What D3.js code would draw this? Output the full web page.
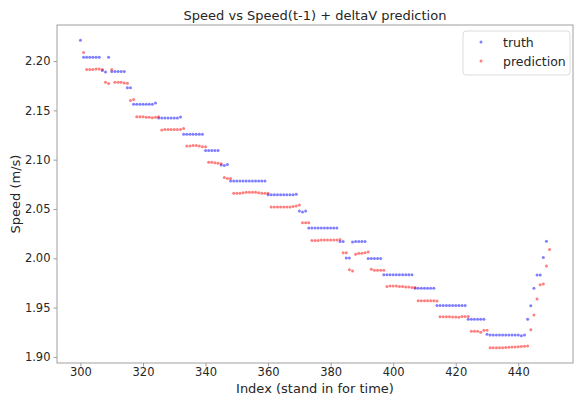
<!DOCTYPE html>
<html>
<head>
  <meta charset="utf-8">
  <script src="https://d3js.org/d3.v7.min.js"></script>
  <style>
    body{ margin:0; background:#fff; }
    text{ font-family:"DejaVu Sans", sans-serif; fill:#262626; }
    .axis path, .axis line{ stroke:#a0a0a0; }
    .axis text{ font-size:11.5px; fill:#262626; }
  </style>
</head>
<body>
<script>
// truth, index 300..449
var truthStart = 300;
var truth = [
  2.221,
  2.204, 2.204, 2.204, 2.204, 2.204, 2.204,
  2.1905, 2.1888,
  2.204,
  2.1895, 2.1895, 2.1895, 2.1895, 2.1895,
  2.173, 2.173,
  2.1563, 2.1563, 2.1563, 2.1563, 2.1563, 2.1563, 2.1563, 2.1576,
  2.1423, 2.1423, 2.1423, 2.1423, 2.1423, 2.1423, 2.1423, 2.1432,
  2.1258, 2.1258, 2.1258, 2.1258, 2.1258, 2.1258, 2.1258,
  2.1092, 2.1092, 2.1092, 2.1092, 2.1092,
  2.0945, 2.094, 2.095,
  2.0783, 2.0783, 2.0783, 2.0783, 2.0783, 2.0783, 2.0783, 2.0783, 2.0783, 2.0783, 2.0783, 2.0783,
  2.0644, 2.0644, 2.0644, 2.0644, 2.0644, 2.0644, 2.0644, 2.0644, 2.0644, 2.065,
  2.048, 2.047, 2.048,
  2.0308, 2.0308, 2.0308, 2.0308, 2.0308, 2.0308, 2.0308, 2.0308, 2.0308, 2.0308,
  2.017, 2.017,
  2.0004, 2.0004,
  2.0165, 2.017, 2.017, 2.017, 2.017,
  1.9997, 1.9997, 1.9997, 1.9997, 1.9997,
  1.9834, 1.9834, 1.9834, 1.9834, 1.9834, 1.9834, 1.9834, 1.9834, 1.9834, 1.9834,
  1.9695, 1.9695, 1.9695, 1.9695, 1.9695, 1.9695, 1.9695,
  1.9522, 1.9522, 1.9522, 1.9522, 1.9522, 1.9522, 1.9522, 1.9522, 1.9522, 1.9522,
  1.9383, 1.9383, 1.9383, 1.9383, 1.9383, 1.9383,
  1.923, 1.9221, 1.9221, 1.9221, 1.9221, 1.9221, 1.9221, 1.9221, 1.9221, 1.9221, 1.9221, 1.9215, 1.9221,
  1.9383, 1.952, 1.9695, 1.983, 1.983, 2.0007, 2.0173
];

// prediction, index 301..450
var predStart = 301;
var prediction = [
  2.2088,
  2.1915, 2.1915, 2.1915, 2.192, 2.192, 2.1915,
  2.1786, 2.1773,
  2.1915,
  2.1786, 2.1786, 2.1786, 2.1778, 2.1776,
  2.160, 2.161,
  2.1435, 2.1435, 2.1435, 2.143, 2.143, 2.1425, 2.143, 2.1435,
  2.1300, 2.1305, 2.1305, 2.1305, 2.1305, 2.1305, 2.1305, 2.1315,
  2.114, 2.114, 2.1145, 2.1145, 2.114, 2.113, 2.113,
  2.0975, 2.0975, 2.097, 2.0965, 2.096,
  2.082, 2.081, 2.081,
  2.066, 2.066, 2.066, 2.0665, 2.067, 2.067, 2.067, 2.067, 2.0665, 2.066, 2.066, 2.066,
  2.052, 2.052, 2.052, 2.052, 2.052, 2.052, 2.052, 2.0525, 2.053, 2.054,
  2.036, 2.036, 2.036,
  2.018, 2.018, 2.018, 2.0185, 2.0185, 2.0185, 2.0185, 2.0185, 2.0185, 2.019,
  2.0055, 2.0055,
  1.9885, 1.987,
  2.004, 2.005, 2.005, 2.0055, 2.0065,
  1.989, 1.988, 1.988, 1.988, 1.988,
  1.9715, 1.972, 1.972, 1.972, 1.9715, 1.9715, 1.971, 1.971, 1.9705, 1.9705,
  1.957, 1.957, 1.957, 1.957, 1.957, 1.957, 1.9566,
  1.9407, 1.9407, 1.9407, 1.9407, 1.9405, 1.9405, 1.9402, 1.941, 1.941, 1.941,
  1.926, 1.926, 1.926, 1.925, 1.927, 1.927,
  1.9094, 1.9094, 1.9094, 1.9094, 1.9094, 1.9096, 1.9098, 1.91, 1.91, 1.9103, 1.9105, 1.9108, 1.911,
  1.9275, 1.9424, 1.9586, 1.9732, 1.974, 1.9922, 2.0088
];

var yTicks = [1.90, 1.95, 2.00, 2.05, 2.10, 2.15, 2.20];
var xTicks = [300, 320, 340, 360, 380, 400, 420, 440];
var seriesNames = ["truth", "prediction"];
var seriesColors = ["rgba(0,0,255,0.5)", "rgba(255,0,0,0.5)"];

var truthPts = truth.map(function(v, i){ return {x: truthStart + i, y: v}; });
var predPts = prediction.map(function(v, i){ return {x: predStart + i, y: v}; });

var width = 574, height = 398;
var margin = {top: 25, right: 1, bottom: 35, left: 57};

var svg = d3.select("body").append("svg")
  .attr("width", width)
  .attr("height", height);

var allPts = truthPts.concat(predPts);
var xExt = d3.extent(allPts, function(d){ return d.x; });
var yExt = d3.extent(allPts, function(d){ return d.y; });
var xPad = (xExt[1] - xExt[0]) * 0.05, yPad = (yExt[1] - yExt[0]) * 0.05;

var x = d3.scaleLinear()
  .domain([xExt[0] - xPad, xExt[1] + xPad])
  .range([margin.left, width - margin.right]);
var y = d3.scaleLinear()
  .domain([yExt[0] - yPad, yExt[1] + yPad])
  .range([height - margin.bottom, margin.top]);

// frame
svg.append("rect")
  .attr("x", margin.left).attr("y", margin.top)
  .attr("width", width - margin.right - margin.left)
  .attr("height", height - margin.bottom - margin.top)
  .attr("fill", "none").attr("stroke", "#a0a0a0");

svg.append("g").attr("class", "axis")
  .attr("transform", "translate(0," + (height - margin.bottom) + ")")
  .call(d3.axisBottom(x).tickValues(xTicks).tickSize(3.5).tickPadding(1.5).tickFormat(d3.format("d")))
  .call(function(g){ g.select(".domain").remove(); });

svg.append("g").attr("class", "axis")
  .attr("transform", "translate(" + margin.left + ",0)")
  .call(d3.axisLeft(y).tickValues(yTicks).tickSize(3.5).tickPadding(3).tickFormat(d3.format(".2f")))
  .call(function(g){ g.select(".domain").remove(); });

var dots = svg.append("g");
[truthPts, predPts].forEach(function(pts, k){
  dots.selectAll(null)
    .data(pts)
    .enter()
    .append("circle")
    .attr("cx", function(d){ return x(d.x); })
    .attr("cy", function(d){ return y(d.y); })
    .attr("r", 1.5)
    .attr("fill", seriesColors[k]);
});

// title and labels
svg.append("text")
  .attr("x", (margin.left + width - margin.right) / 2).attr("y", 20)
  .attr("text-anchor", "middle").style("font-size", "13px")
  .text("Speed vs Speed(t-1) + deltaV prediction");

svg.append("text")
  .attr("x", (margin.left + width - margin.right) / 2).attr("y", 393)
  .attr("text-anchor", "middle").style("font-size", "13px")
  .text("Index (stand in for time)");

svg.append("text")
  .attr("transform", "translate(20," + ((margin.top + height - margin.bottom) / 2) + ") rotate(-90)")
  .attr("text-anchor", "middle").style("font-size", "13px")
  .text("Speed (m/s)");

// legend
var legend = svg.append("g").attr("transform", "translate(463,31)");
legend.append("rect")
  .attr("width", 107).attr("height", 44).attr("rx", 3)
  .attr("fill", "#fff").attr("fill-opacity", 0.8)
  .attr("stroke", "#dcdcdc");
seriesNames.forEach(function(name, k){
  var row = legend.append("g").attr("transform", "translate(0," + (11 + k * 19) + ")");
  row.append("circle").attr("cx", 18).attr("cy", 0).attr("r", 1.5).attr("fill", seriesColors[k]);
  row.append("text").attr("x", 40).attr("y", 4.5).style("font-size", "12.5px").text(name);
});
</script>
</body>
</html>
